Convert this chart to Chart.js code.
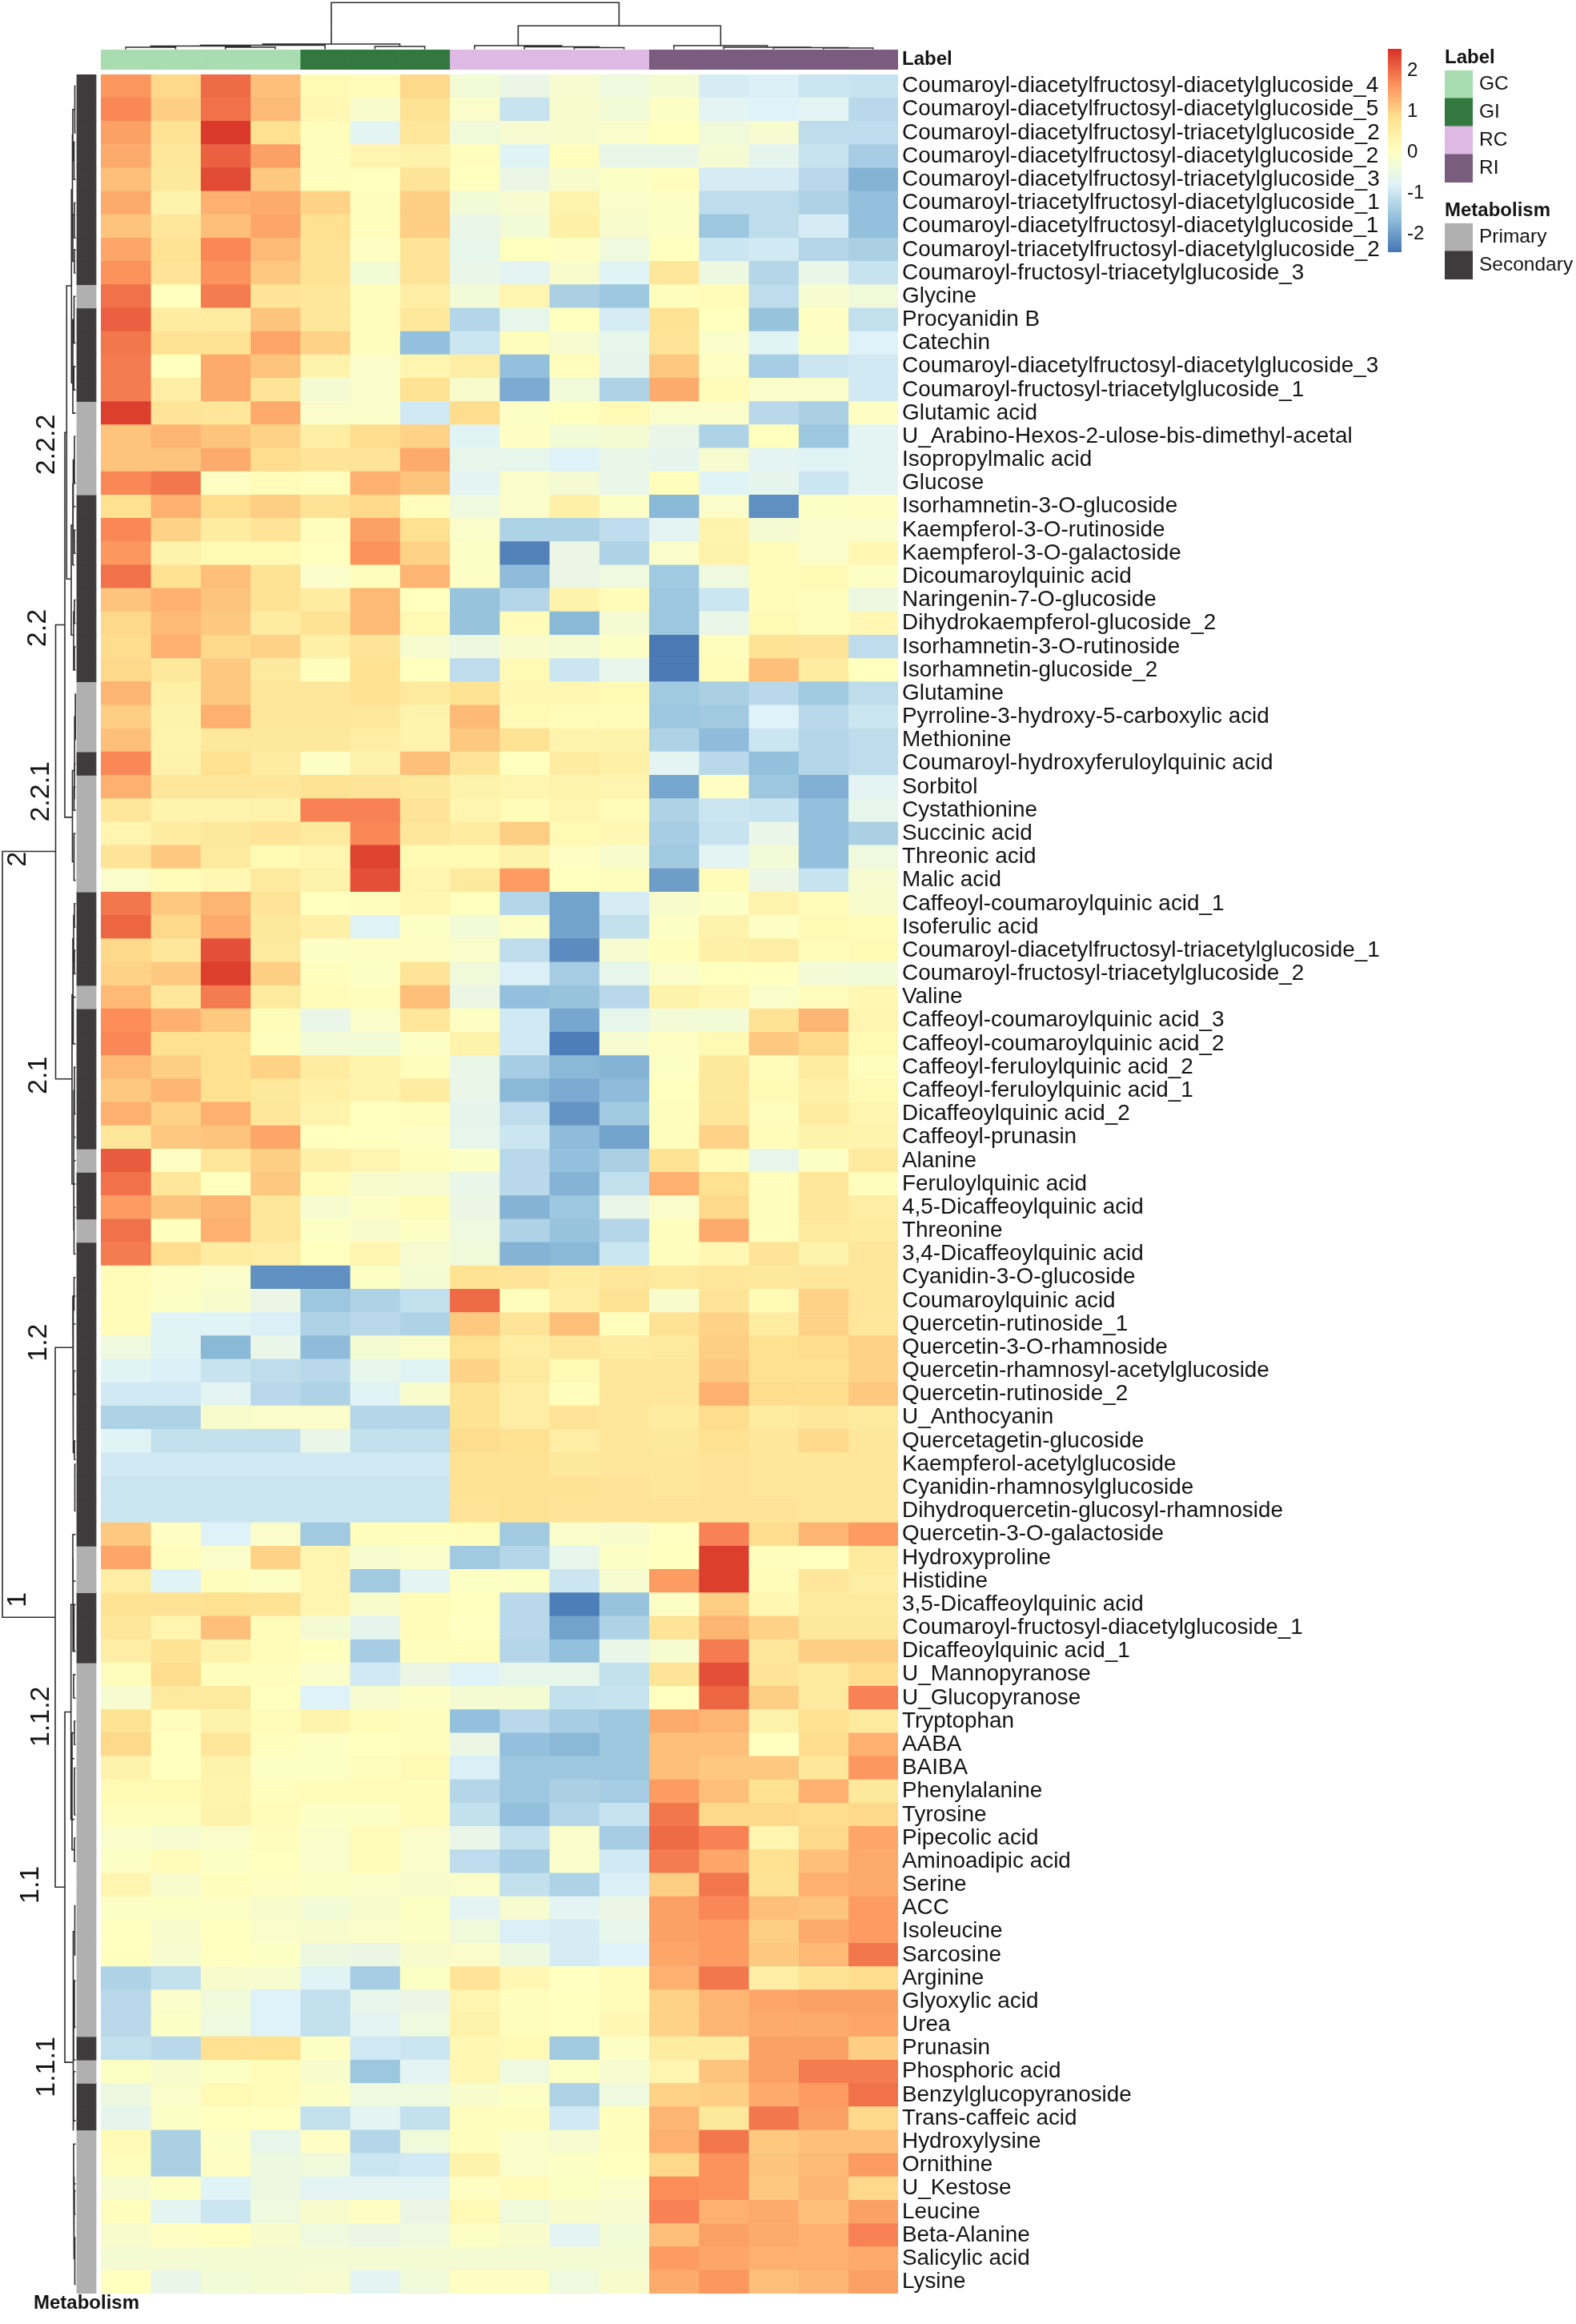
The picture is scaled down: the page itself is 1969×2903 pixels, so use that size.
<!DOCTYPE html>
<html>
<head>
<meta charset="utf-8">
<title>Metabolite heatmap</title>
<script src="https://cdn.jsdelivr.net/npm/chart.js@4"></script>
<style>
  html, body { margin: 0; padding: 0; background: #fff; overflow: hidden; }
  #page { position: relative; width: 1969px; height: 2903px; }
  canvas { position: absolute; }
</style>
</head>
<body>
<div id="page">
  <canvas id="colDendro"></canvas>
  <canvas id="rowDendro"></canvas>
  <canvas id="labelTrack"></canvas>
  <canvas id="metaTrack"></canvas>
  <canvas id="heat"></canvas>
  <canvas id="colorBar"></canvas>
  <canvas id="labelLegend"></canvas>
  <canvas id="metaLegend"></canvas>
</div>
<script>
// row names, top to bottom
var rowLabels = [
  "Coumaroyl-diacetylfructosyl-diacetylglucoside_4", "Coumaroyl-diacetylfructosyl-diacetylglucoside_5",
  "Coumaroyl-diacetylfructosyl-triacetylglucoside_2", "Coumaroyl-diacetylfructosyl-diacetylglucoside_2",
  "Coumaroyl-diacetylfructosyl-triacetylglucoside_3", "Coumaroyl-triacetylfructosyl-diacetylglucoside_1",
  "Coumaroyl-diacetylfructosyl-diacetylglucoside_1", "Coumaroyl-triacetylfructosyl-diacetylglucoside_2",
  "Coumaroyl-fructosyl-triacetylglucoside_3", "Glycine", "Procyanidin B", "Catechin",
  "Coumaroyl-diacetylfructosyl-diacetylglucoside_3", "Coumaroyl-fructosyl-triacetylglucoside_1",
  "Glutamic acid", "U_Arabino-Hexos-2-ulose-bis-dimethyl-acetal", "Isopropylmalic acid", "Glucose",
  "Isorhamnetin-3-O-glucoside", "Kaempferol-3-O-rutinoside", "Kaempferol-3-O-galactoside",
  "Dicoumaroylquinic acid", "Naringenin-7-O-glucoside", "Dihydrokaempferol-glucoside_2",
  "Isorhamnetin-3-O-rutinoside", "Isorhamnetin-glucoside_2", "Glutamine",
  "Pyrroline-3-hydroxy-5-carboxylic acid", "Methionine", "Coumaroyl-hydroxyferuloylquinic acid",
  "Sorbitol", "Cystathionine", "Succinic acid", "Threonic acid", "Malic acid",
  "Caffeoyl-coumaroylquinic acid_1", "Isoferulic acid", "Coumaroyl-diacetylfructosyl-triacetylglucoside_1",
  "Coumaroyl-fructosyl-triacetylglucoside_2", "Valine", "Caffeoyl-coumaroylquinic acid_3",
  "Caffeoyl-coumaroylquinic acid_2", "Caffeoyl-feruloylquinic acid_2", "Caffeoyl-feruloylquinic acid_1",
  "Dicaffeoylquinic acid_2", "Caffeoyl-prunasin", "Alanine", "Feruloylquinic acid",
  "4,5-Dicaffeoylquinic acid", "Threonine", "3,4-Dicaffeoylquinic acid", "Cyanidin-3-O-glucoside",
  "Coumaroylquinic acid", "Quercetin-rutinoside_1", "Quercetin-3-O-rhamnoside",
  "Quercetin-rhamnosyl-acetylglucoside", "Quercetin-rutinoside_2", "U_Anthocyanin",
  "Quercetagetin-glucoside", "Kaempferol-acetylglucoside", "Cyanidin-rhamnosylglucoside",
  "Dihydroquercetin-glucosyl-rhamnoside", "Quercetin-3-O-galactoside", "Hydroxyproline", "Histidine",
  "3,5-Dicaffeoylquinic acid", "Coumaroyl-fructosyl-diacetylglucoside_1", "Dicaffeoylquinic acid_1",
  "U_Mannopyranose", "U_Glucopyranose", "Tryptophan", "AABA", "BAIBA", "Phenylalanine", "Tyrosine",
  "Pipecolic acid", "Aminoadipic acid", "Serine", "ACC", "Isoleucine", "Sarcosine", "Arginine",
  "Glyoxylic acid", "Urea", "Prunasin", "Phosphoric acid", "Benzylglucopyranoside", "Trans-caffeic acid",
  "Hydroxylysine", "Ornithine", "U_Kestose", "Leucine", "Beta-Alanine", "Salicylic acid", "Lysine"
];

// scaled abundance, one row per metabolite
var zScores = [
  [1.6,.95,2,1.2,.2,.15,.95,-.3,-.5,-.2,-.4,-.25,-.9,-.85,-1,-1.05],
  [1.75,1.05,1.95,1.25,.25,-.15,.8,-.1,-1.05,-.15,-.3,-.05,-.7,-.8,-.7,-1.2],
  [1.5,.8,2.45,.85,.1,-.7,.7,-.35,-.2,-.15,-.1,.05,-.35,-.2,-1.15,-1.15],
  [1.4,.7,2.1,1.5,.1,.3,.4,.1,-.75,.1,-.55,-.55,-.25,-.65,-1.05,-1.4],
  [1.2,.65,2.3,1.1,.1,.05,.75,.05,-.5,-.15,-.05,.1,-.9,-.9,-1.2,-1.75],
  [1.4,.4,1.35,1.4,1,.1,1.05,-.3,-.2,.35,-.1,-.05,-1.15,-1.15,-1.3,-1.6],
  [1.15,.7,1.2,1.45,.85,.1,1.05,-.55,-.3,.45,-.15,-.05,-1.5,-1.15,-.9,-1.6],
  [1.45,.8,1.75,1.25,.8,0,.75,-.6,.05,0,-.4,.05,-1,-.95,-1.25,-1.35],
  [1.65,.75,1.65,1.1,.8,-.3,.75,-.55,-.7,-.15,-.75,.7,-.45,-1.25,-.55,-1.05],
  [1.95,.05,1.85,.75,.7,.1,.5,-.3,.3,-1.35,-1.5,.1,.15,-1.15,-.2,-.35],
  [2.1,.55,.55,1.15,.7,.1,.65,-1.25,-.6,.05,-.9,.8,.05,-1.55,0,-1.1],
  [1.9,.8,.8,1.45,1,.1,-1.6,-1,.1,-.2,-.6,.75,-.1,-.75,-.05,-.8],
  [1.85,.05,1.4,1.15,.4,-.1,.3,.5,-1.6,.1,-.65,1.1,0,-1.4,-1,-.95],
  [1.85,.5,1.4,.75,-.25,-.1,.8,-.15,-1.85,-.35,-1.3,1.4,.15,-.1,-.1,-.95],
  [2.4,.75,.7,1.4,-.1,-.1,-.95,.9,-.05,.05,.2,-.1,-.1,-1.2,-1.35,0],
  [1.15,1.3,1.15,1,.5,.9,1,-.75,0,-.3,-.25,-.55,-1.3,.05,-1.5,-.7],
  [1.15,1.15,1.4,.9,.75,.75,1.4,-.6,-.6,-.8,-.55,-.65,-.2,-.7,-.75,-.7],
  [1.75,1.9,0,.15,.1,1.35,1.15,-.7,-.1,-.25,-.55,.1,-.75,-.65,-1,-.7],
  [.85,1.35,.9,1.05,.8,.95,.1,-.4,-.1,.45,-.05,-1.7,-.1,-2.15,-.05,0],
  [1.75,1,.55,.75,.1,1.5,.85,-.1,-1.3,-1.3,-1.15,-.7,.35,-.25,-.1,-.1],
  [1.6,.4,.2,.2,.05,1.65,1,-.05,-2.3,-.5,-1.3,-.1,.4,.15,-.1,.25],
  [1.95,.85,1.2,.8,-.1,.1,1.3,-.05,-1.65,-.5,-.4,-1.45,-.4,.15,.2,-.05],
  [1.15,1.35,1.15,.8,.55,1.25,.05,-1.55,-1.25,.4,.15,-1.5,-1,.15,.1,-.45],
  [.95,1.25,1.1,.55,.8,1.25,.2,-1.55,.15,-1.7,-.25,-1.5,-.55,.2,.1,.25],
  [.9,1.35,.95,1,.45,.75,-.2,-.45,-.15,-.25,-.05,-2.4,.1,.8,.75,-1.15],
  [.95,.65,1.1,.6,.1,.85,.05,-1.15,.2,-1,-.6,-2.4,.15,1.2,.55,.05],
  [1.3,.45,1.1,.7,.7,.85,.6,.8,.25,.25,.2,-1.45,-1.35,-1.2,-1.45,-1.15],
  [1.05,.4,1.35,.7,.7,.65,.35,1.25,.2,.15,.15,-1.5,-1.45,-.8,-1.2,-1],
  [1.2,.35,.65,.65,.65,.5,.35,1.1,.8,.35,.4,-1.3,-1.65,-1,-1.25,-1.15],
  [1.75,.4,.85,.55,-.05,.4,1.2,.75,.05,.55,.45,-.7,-1.2,-1.6,-1.25,-1.15],
  [1.35,.7,.7,.7,.8,.75,.65,.4,.3,.35,.3,-1.9,0,-1.5,-1.8,-.7],
  [.7,.35,.35,.4,1.8,1.8,.75,.3,.15,.3,.15,-1.3,-1,-1.05,-1.6,-.6],
  [.3,.55,.65,.75,.6,1.75,.7,.55,1.05,.2,.25,-1.4,-1.05,-.55,-1.6,-1.35],
  [.75,1.1,.6,.2,.3,2.35,.2,.2,.4,0,-.15,-1.45,-.7,-.3,-1.6,-.4],
  [-.1,.15,.25,.6,.4,2.25,.3,.6,1.55,.05,.1,-2,.15,-.5,-1.05,-.2],
  [1.9,1.1,1.3,.75,.05,.1,.25,.05,-1.25,-1.95,-.9,-.15,-.05,.35,.15,-.15],
  [2.05,.95,1.4,.65,.45,-.75,-.02,-.3,-.05,-1.95,-1.1,-.05,.4,-.05,.2,.15],
  [.95,.7,2.25,.6,-.05,0,0,-.1,-1.15,-2.2,-.2,.1,.45,.5,.15,.2],
  [1,1.1,2.4,1.05,.1,-.05,.75,-.35,-.85,-1.4,-.6,-.1,.05,.03,-.3,-.3],
  [1.25,.7,1.85,.6,.15,.1,1.2,-.5,-1.6,-1.55,-1.2,.4,.25,-.1,.1,.25],
  [1.7,1.35,1.1,.15,-.55,-.1,.7,0,-.95,-1.9,-.6,-.3,-.3,.8,1.3,.3],
  [1.75,.85,.85,.1,-.3,-.3,-.05,.4,-.95,-2.35,-.2,0,.2,1.1,.95,.2],
  [1.25,1.05,.85,1,.55,.35,.1,-.55,-1.4,-1.7,-1.75,-.02,.65,.15,.55,.1],
  [1.1,1.3,.85,.65,.45,.35,.55,-.55,-1.7,-1.85,-1.65,.05,.65,.2,.45,.2],
  [1.35,1,1.35,.7,.35,.05,.1,-.65,-1.15,-2.1,-1.45,.1,.7,.1,.55,.3],
  [.7,1.1,1.15,1.45,.05,.05,0,-.6,-1,-1.65,-1.95,.1,1,.15,.4,.35],
  [2.15,0,.7,1.05,.45,.3,.1,-.05,-1.2,-1.6,-1.35,.8,.15,-.6,-.05,.6],
  [1.95,.7,.05,1.1,.15,-.15,-.2,-.55,-1.2,-1.75,-1.1,1.35,.85,.1,.7,.1],
  [1.55,1.15,1.3,.7,-.2,-.05,.15,-.5,-1.75,-1.5,-.55,-.1,.95,.1,.7,.5],
  [1.95,.05,1.35,.7,-.03,-.15,-.02,-.4,-1.3,-1.55,-1.25,.1,1.4,.1,.6,.55],
  [1.85,.9,.55,.5,.05,.3,-.2,-.35,-1.75,-1.7,-1,.1,.25,.75,.4,.7],
  [.15,0,-.1,-2.15,-2.15,-.02,-.25,.8,.75,.55,.7,.6,.7,.65,.7,.7],
  [.15,-.05,-.15,-.5,-1.5,-1.3,-1.1,2,.1,.5,.8,-.15,.75,.2,1,.7],
  [.15,-.75,-.75,-.85,-1.3,-1.2,-1.3,1.1,.75,1.2,.1,.8,1,.55,1,.7],
  [-.4,-.75,-1.7,-.55,-1.65,-.25,-.1,.85,.5,.7,.55,.6,1.05,.85,.9,1],
  [-.75,-.85,-1.05,-1.15,-1.2,-.6,-.75,1,.6,.2,.7,.7,1.1,.85,.85,1],
  [-.95,-.95,-.7,-1.2,-1.3,-.75,-.15,.8,.5,.1,.7,.7,1.35,.9,.9,1.1],
  [-1.3,-1.3,-.15,-.1,-.1,-1.25,-1.25,.8,.5,.75,.7,.55,.9,.55,.7,.6],
  [-.75,-1.1,-1.1,-1.1,-.55,-1.1,-1.1,.9,.85,.5,.7,.65,.85,.7,.95,.7],
  [-.95,-.95,-.95,-.95,-.95,-.95,-.95,.8,.8,.65,.7,.7,.75,.7,.7,.7],
  [-1,-1,-1,-1,-1,-1,-1,.8,.8,.8,.75,.7,.75,.7,.7,.7],
  [-1,-1,-1,-1,-1,-1,-1,.75,.8,.75,.75,.75,.75,.75,.7,.7],
  [1.1,0,-.8,-.1,-1.45,.1,.1,.1,-1.45,-.1,-.15,.02,1.8,.9,1.3,1.55],
  [1.45,.1,-.1,1,.3,-.2,-.1,-1.45,-1.25,-.6,-.05,.05,2.4,.1,.05,.6],
  [.5,-.75,.1,-.02,.3,-1.45,-.7,-.02,-.02,-1,-.2,1.55,2.4,.15,.7,.5],
  [.8,.8,.85,.8,.3,-.15,.15,.05,-1.2,-2.35,-1.55,-.05,1.05,.25,.6,.6],
  [.7,.3,1.2,.15,-.25,-.65,.15,.02,-1.2,-1.95,-1.3,.75,1.3,1,.65,.65],
  [.5,.8,.4,.15,.05,-1.4,.1,.1,-1.25,-1.6,-.55,-.2,1.85,.7,1.05,1.05],
  [.1,.9,.1,.1,-.1,-.95,-.5,-.8,-.6,-.6,-1.1,.75,2.25,.75,.6,.9],
  [-.2,.6,.6,.05,-.8,-.2,-.05,-.25,-.25,-1.1,-1.05,.03,2.05,1.05,.6,1.8],
  [.8,.1,.4,.12,.35,.12,.1,-1.6,-1.2,-1.4,-1.5,1.4,1.3,.4,.85,.6],
  [.95,.05,.7,.1,-.02,.05,.1,-.5,-1.6,-1.7,-1.5,1.2,1.2,.03,.9,1.35],
  [.4,.05,.4,-.02,-.03,.1,.2,-.85,-1.5,-1.5,-1.5,1.2,1.1,1.1,.7,1.6],
  [.2,.2,.35,.1,.15,.15,.15,-1.25,-1.5,-1.35,-1.4,1.55,1.2,.85,1.35,.65],
  [.1,.1,.4,.12,-.05,-.05,.15,-1.1,-1.6,-1.25,-1.05,1.9,.95,.95,.9,.95],
  [-.1,-.2,-.1,.1,-.1,.15,-.1,-.55,-1.1,-.1,-1.4,2,1.8,.3,.95,1.45],
  [-.05,.15,-.05,.05,-.1,.15,-.1,-1.15,-1.4,-.1,-.95,1.85,1.45,.85,1.2,1.4],
  [.3,-.15,.1,0,-.05,-.1,-.15,-.1,-1.1,-1.3,-.85,1.05,1.9,.8,1.35,1.4],
  [-.05,-.03,-.05,-.15,-.3,-.15,-.03,-.7,-.2,-.7,-.5,1.5,1.75,1.2,1.15,1.55],
  [.05,-.15,.03,-.1,-.15,-.1,-.05,-.35,-.85,-.9,-.6,1.5,1.55,1.05,1.4,1.55],
  [.05,-.2,.03,-.03,-.45,-.5,-.15,-.1,-.45,-.9,-.8,1.45,1.55,1.1,1.25,1.9],
  [-1.3,-1.1,-.15,-.2,-.75,-1.4,-.02,.75,.25,.02,.15,1.35,1.9,.5,.8,.9],
  [-1.2,-.1,-.35,-.8,-1.1,-.6,-.5,.3,.1,.03,.15,1,1.3,1.45,1.5,1.5],
  [-1.2,-.05,-.4,-.8,-1.1,-.7,-.4,.4,.1,.05,.25,1,1.3,1.4,1.4,1.45],
  [-1.1,-1.2,.85,.85,-.02,-.95,-1,.25,.2,-1.45,-.05,.55,.55,1.5,1.5,1.05],
  [-.02,-.15,-.02,.15,-.15,-1.5,-.7,.25,-.4,-.03,-.2,.3,1.15,1.5,1.85,1.85],
  [-.45,-.1,.2,.15,-.05,-.4,-.4,-.15,-.03,-1.3,-.4,1,1.05,1.4,1.55,1.95],
  [-.65,-.05,.03,.02,-1.1,-.7,-1.1,.1,.1,-.95,.1,1.3,.65,1.9,1.5,.95],
  [.2,-1.35,-.05,-.6,-.05,-1.25,-.35,.1,-.1,-.2,.1,1.35,1.9,1.1,1.2,1.2],
  [.1,-1.35,0,-.45,-.35,-1,-.95,.4,-.1,-.05,.05,.95,1.65,1.15,1.25,1.55],
  [-.2,-.03,-.75,-.45,-.7,-.7,-.7,0,.15,-.03,-.1,1.7,1.65,1.1,1.3,.95],
  [.1,-.7,-1,-.4,-.15,0,-.5,.2,-.35,-.15,-.2,1.8,1.35,1.4,1.2,1.5],
  [-.15,0,.05,-.15,-.4,-.5,-.4,-.03,-.15,-.7,-.3,1.2,1.5,1.4,1.35,1.8],
  [-.25,-.25,-.25,-.25,-.25,-.25,-.25,-.25,-.25,-.25,-.25,1.55,1.45,1.35,1.35,1.4],
  [.03,-.55,-.3,-.25,-.2,-.7,-.35,0,0,-.4,-.15,1.4,1.6,1.2,1.3,1.5]
];

// annotation tracks
var groupNames = ["GC", "GI", "RC", "RI"];
var groupColors = ["#a9dcb1", "#33793f", "#ddb9e3", "#7a5c7e"];
var sampleGroups = [0,0,0,0,1,1,1,2,2,2,2,3,3,3,3,3];
var metaNames = ["Primary", "Secondary"];
var metaColors = ["#b0b0b0", "#3d3b3c"];
// 0 primary, 1 secondary, per row
var rowMeta = [1,1,1,1,1,1,1,1,1,0,1,1,1,1,0,0,0,0,1,1,1,1,1,1,1,1,0,0,0,1,0,0,0,0,0,1,1,1,1,0,1,1,1,1,1,1,0,1,1,0,1,1,1,1,1,1,1,1,1,1,1,1,1,0,0,1,1,1,0,0,0,0,0,0,0,0,0,0,0,0,0,0,0,0,1,0,1,1,0,0,0,0,0,0,0];

// colour scale
var scaleMin = -2.45, scaleMax = 2.53;
var scaleTicks = [-2, -1, 0, 1, 2];
var scaleColors = ["#4575b4", "#91bfdb", "#e0f3f8", "#ffffbf", "#fee090", "#fc8d59", "#d73027"];

// column dendrogram merges: [posA, posB, height, heightA, heightB], pos in columns
var colMerges = [
  [.5,1.5,3,.5,.5], [2.5,3.5,3,.5,.5], [1,3,4.5,3,3], [2,4.5,5.5,4.5,.5], [5.5,6.5,4,.5,.5], [3.25,6,7,5.5,4],
  [9.5,10.5,2.5,.5,.5], [8.5,10,3.5,.5,2.5], [7.5,9.25,5,.5,3.5],
  [14.5,15.5,2,.5,.5], [13.5,15,2.5,.5,2], [12.5,14.25,3,.5,2.5], [11.5,13.375,5,.5,3],
  [8.375,12.44,29.7,5,5], [4.625,10.4,58.7,7,29.7]
];

// row dendrogram merges: [height, rowA, rowB, heightA, heightB]
var rowMerges = [
  [93,33.26,66.05,27,27], [26.5,23.56,43,15,6], [15,15.33,31.8,12.7,5.5], [12.7,9.05,21.6,6.7,7],
  [6.7,4.94,13.2,5.5,5], [5.5,2.6,7,5,5], [5,1.5,3.7,2.5,3.5], [2.5,.5,2.5,1.5,1.5], [3.5,2.9,4.5,2.5,1.5],
  [5,6,8,3,3], [3,5.5,7,1.5,1.5], [3,7.5,8.5,1.5,1.5], [3.5,9.5,11.5,1.5,1.5], [3.7,12.5,13.5,1.5,1.5], [5,10.5,14.5,3.5,1.5],
  [7,19.3,24,5,4], [3,15.5,17.5,1.5,1.5], [4.5,16.5,18.5,3,1.5], [5,17.5,21,4.5,3], [3,19.5,20.5,1.5,1.5],
  [3,22.5,23.5,1.5,1.5], [4,23,25.5,3,3], [3,24.5,25.5,1.5,1.5],
  [5.5,29.8,33.7,3,3.5], [2,26.5,28.5,1.5,1.5], [2.8,27.5,29.5,2,1.5], [3.5,30.5,31.5,1.5,1.5], [3.5,32.5,34.5,1.5,1.5], [3,29.5,31,2.8,3.5],
  [6,39.4,47.5,5,4], [3,35.5,36.5,1.5,1.5], [3,37.5,38.5,1.5,1.5], [4,36,38,3,3], [5,37,40.5,4,4.5], [4.5,39.5,41.5,1.5,1.5],
  [3,42.5,44.5,1.5,1.5], [3.8,43.5,45.5,3,1.5], [3.8,46.5,47.5,1.5,1.5], [3.5,48.5,50.5,1.5,1.5], [4,44.5,49.5,3.8,3.5],
  [27,54.5,77.6,4.5,15], [4.5,52.9,59,5,3.5], [3.5,51.5,52.9,1.5,5], [5,52.3,53.5,1.5,1.5], [4,55.5,56.5,1.5,1.5], [3,58.5,59.3,1.5,1.5], [2.5,59.5,61.5,1.5,1.5],
  [15,70.1,85.1,7.3,4.3], [7.3,65.5,74.7,5,6.5], [5,62.5,64.5,1.5,1.5], [4.8,63.5,67.5,5,3.5], [3.5,65.5,67.5,1.5,1.5], [4,68.5,69.5,1.5,1.5],
  [3,70.5,71.5,1.5,1.5], [6.5,72.1,74.7,3,3], [3,72.5,74.5,1.5,1.5], [3,75.5,76.5,1.5,1.5], [6,71,76,3,3],
  [4.5,79.5,88,2.5,4], [2.5,78.4,80.5,1.5,1.5], [3,81.6,83.6,1.5,1.5], [4,82.5,85,3,1.5],
  [4,85.5,87.6,1.5,1.5], [4,88.6,90.3,1.5,1.5], [3,90.6,91.6,1.5,1.5], [2.5,92.6,94.6,1.5,1.5], [3.5,90,93.5,4,2.5]
];

// cluster names along the row dendrogram: [text, height, row]
var clusterNames = [
  ["2.2.2",37,15.85], ["2.2",48,23.7], ["2.2.1",44,30.7], ["2",73,33.6], ["2.1",47,42.85],
  ["1.2",47,54.29], ["1",73,65.3], ["1.1.2",44,70.3], ["1.1",57,77.5], ["1.1.1",37,85.3]
];

var FONT = '"Liberation Sans", Arial, sans-serif';
var TEXT = "#141414";
Chart.defaults.font.family = FONT;
Chart.defaults.color = TEXT;
Chart.defaults.animation = false;
Chart.defaults.responsive = false;
Chart.defaults.plugins.legend.display = false;
Chart.defaults.plugins.tooltip.enabled = false;

function place(id, left, top, width, height) {
  var c = document.getElementById(id);
  c.width = width; c.height = height;
  c.style.left = left + "px"; c.style.top = top + "px";
  c.style.width = width + "px"; c.style.height = height + "px";
  return c;
}

function hexToRgb(h) {
  return [parseInt(h.slice(1,3),16), parseInt(h.slice(3,5),16), parseInt(h.slice(5,7),16)];
}

function colorFor(v) {
  var t = (v - scaleMin) / (scaleMax - scaleMin) * (scaleColors.length - 1);
  t = Math.max(0, Math.min(scaleColors.length - 1.001, t));
  var i = Math.floor(t), f = t - i;
  var a = hexToRgb(scaleColors[i]), b = hexToRgb(scaleColors[i + 1]);
  return "rgb(" + [0,1,2].map(function(k) { return Math.round(a[k] + (b[k] - a[k]) * f); }).join(",") + ")";
}

// axis that keeps a fixed thickness and does not push the plot inwards
function fixedWidth(w) {
  return function(scale) { scale.width = w; scale.paddingTop = 0; scale.paddingBottom = 0; };
}
function fixedHeight(h) {
  return function(scale) { scale.height = h; scale.paddingLeft = 0; scale.paddingRight = 0; };
}
var hidden = { display: false, grid: { display: false }, border: { display: false } };

function elbowPoints(merges, toPoint) {
  var pts = [];
  merges.forEach(function(m) {
    toPoint(m).forEach(function(p) { pts.push(p); });
    pts.push({ x: NaN, y: NaN });
  });
  return pts;
}

// heatmap
new Chart(place("heat", 126, 93, 1843, 2772), {
  type: "bar",
  data: {
    labels: rowLabels,
    datasets: sampleGroups.map(function(g, c) {
      return {
        data: rowLabels.map(function() { return [c, c + 1]; }),
        backgroundColor: zScores.map(function(r) { return colorFor(r[c]); }),
        borderWidth: 0, barPercentage: 1, categoryPercentage: 1, grouped: false
      };
    })
  },
  options: {
    indexAxis: "y",
    layout: { padding: 0 },
    scales: {
      x: Object.assign({ type: "linear", min: 0, max: 16 }, hidden),
      y: {
        position: "right",
        grid: { display: false, drawTicks: false }, border: { display: false },
        ticks: { autoSkip: false, padding: 5, font: { size: 27.9 }, color: TEXT },
        afterFit: fixedWidth(847)
      }
    }
  }
});

// sample group track
new Chart(place("labelTrack", 126, 62, 1843, 25), {
  type: "bar",
  data: {
    labels: ["Label"],
    datasets: sampleGroups.map(function(g, c) {
      return { data: [[c, c + 1]], backgroundColor: groupColors[g], borderWidth: 0, barPercentage: 1, categoryPercentage: 1, grouped: false };
    })
  },
  options: {
    indexAxis: "y",
    layout: { padding: 0 },
    scales: {
      x: Object.assign({ type: "linear", min: 0, max: 16 }, hidden),
      y: {
        position: "right",
        grid: { display: false, drawTicks: false }, border: { display: false },
        ticks: { padding: 5, font: { size: 24, weight: "bold" }, color: TEXT },
        afterFit: fixedWidth(847)
      }
    }
  }
});

// metabolism track, inflated by hand since the narrow bars do not get it automatically
new Chart(place("metaTrack", 40, 93, 136, 2810), {
  type: "bar",
  data: {
    labels: ["Metabolism"],
    datasets: rowMeta.map(function(m, r) {
      return { data: [[r, r + 1]], backgroundColor: metaColors[m], borderWidth: 0, inflateAmount: 0.4, barPercentage: 24 / 136, categoryPercentage: 1, grouped: false };
    })
  },
  options: {
    layout: { padding: 0 },
    scales: {
      y: Object.assign({ type: "linear", min: 0, max: 95, reverse: true }, hidden),
      x: {
        grid: { display: false, drawTicks: false }, border: { display: false },
        ticks: { padding: -2, maxRotation: 0, font: { size: 24, weight: "bold" }, color: TEXT },
        afterFit: fixedHeight(38)
      }
    }
  }
});

// column dendrogram
new Chart(place("colDendro", 126, 0, 996, 62), {
  type: "scatter",
  data: {
    datasets: [{
      data: elbowPoints(colMerges, function(m) {
        return [{ x: m[0], y: m[3] }, { x: m[0], y: m[2] }, { x: m[1], y: m[2] }, { x: m[1], y: m[4] }];
      }),
      showLine: true, spanGaps: false, pointRadius: 0, borderColor: "#2e2e2e", borderWidth: 1.6, tension: 0
    }]
  },
  options: {
    layout: { padding: 0 },
    scales: {
      x: Object.assign({ type: "linear", min: 0, max: 16 }, hidden),
      y: Object.assign({ type: "linear", min: 0, max: 62 }, hidden)
    }
  }
});

// writes the cluster names sideways next to the row dendrogram
var clusterNamePlugin = {
  id: "clusterNames",
  afterDatasetsDraw: function(chart) {
    var ctx = chart.ctx;
    clusterNames.forEach(function(n) {
      ctx.save();
      ctx.translate(chart.scales.x.getPixelForValue(n[1]), chart.scales.y.getPixelForValue(n[2]));
      ctx.rotate(-Math.PI / 2);
      ctx.font = "34px " + FONT;
      ctx.fillStyle = TEXT;
      ctx.textAlign = "center";
      ctx.textBaseline = "middle";
      ctx.fillText(n[0], 0, 0);
      ctx.restore();
    });
  }
};

// row dendrogram
new Chart(place("rowDendro", 0, 93, 96, 2772), {
  type: "scatter",
  data: {
    datasets: [{
      data: elbowPoints(rowMerges, function(m) {
        return [{ x: m[3], y: m[1] }, { x: m[0], y: m[1] }, { x: m[0], y: m[2] }, { x: m[4], y: m[2] }];
      }),
      showLine: true, spanGaps: false, pointRadius: 0, borderColor: "#2e2e2e", borderWidth: 1.6, tension: 0
    }]
  },
  options: {
    layout: { padding: 0 },
    scales: {
      x: Object.assign({ type: "linear", min: 0, max: 96, reverse: true }, hidden),
      y: Object.assign({ type: "linear", min: 0, max: 95, reverse: true }, hidden)
    }
  },
  plugins: [clusterNamePlugin]
});

// colour bar
new Chart(place("colorBar", 1734, 61, 70, 254), {
  type: "bar",
  data: {
    labels: [""],
    datasets: [{
      data: [[scaleMin, scaleMax]],
      borderWidth: 0, barPercentage: 1, categoryPercentage: 1,
      backgroundColor: function(c) {
        var area = c.chart.chartArea;
        if (!area) return scaleColors[0];
        var g = c.chart.ctx.createLinearGradient(0, area.bottom, 0, area.top);
        scaleColors.forEach(function(col, i) { g.addColorStop(i / (scaleColors.length - 1), col); });
        return g;
      }
    }]
  },
  options: {
    layout: { padding: 0 },
    scales: {
      x: hidden,
      y: {
        position: "right", min: scaleMin, max: scaleMax,
        afterBuildTicks: function(scale) { scale.ticks = scaleTicks.map(function(v) { return { value: v }; }); },
        grid: { display: false, drawTicks: false }, border: { display: false },
        ticks: { padding: 7, font: { size: 24 }, color: TEXT },
        afterFit: fixedWidth(53)
      }
    }
  }
});

// discrete legends
function swatchLegend(id, top, height, title, names, colors) {
  new Chart(place(id, 1805, top, 164, height), {
    type: "bar",
    data: { labels: names, datasets: [{ data: names.map(function() { return 1; }), backgroundColor: colors, borderWidth: 0, barPercentage: 1, categoryPercentage: 1 }] },
    options: {
      indexAxis: "y",
      layout: { padding: 0 },
      plugins: {
        title: { display: true, text: title, align: "start", font: { size: 24, weight: "bold" }, color: TEXT, padding: { top: 0, bottom: 1 } }
      },
      scales: {
        x: Object.assign({ type: "linear", min: 0, max: 1 }, hidden),
        y: {
          position: "right",
          grid: { display: false, drawTicks: false }, border: { display: false },
          ticks: { autoSkip: false, padding: 8, font: { size: 24.5 }, color: TEXT },
          afterFit: fixedWidth(129)
        }
      }
    }
  });
}
swatchLegend("labelLegend", 58, 170, "Label", groupNames, groupColors);
swatchLegend("metaLegend", 249, 100, "Metabolism", metaNames, metaColors);
</script>
</body>
</html>
